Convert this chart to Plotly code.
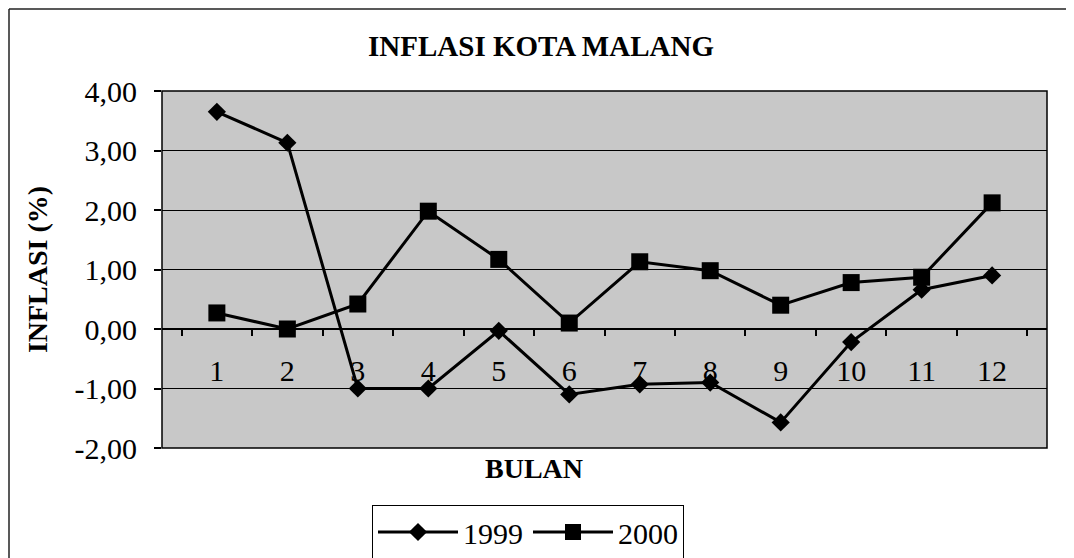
import plotly.graph_objects as go

months = ["1", "2", "3", "4", "5", "6", "7", "8", "9", "10", "11", "12"]
infl_1999 = [3.65, 3.13, -1.00, -1.00, -0.03, -1.10, -0.93, -0.90, -1.57, -0.22, 0.66, 0.90]
infl_2000 = [0.27, 0.00, 0.42, 1.98, 1.17, 0.10, 1.13, 0.98, 0.40, 0.78, 0.87, 2.12]
y_ticks = [-2, -1, 0, 1, 2, 3, 4]
y_ticktext = [f"{v:.2f}".replace(".", ",") for v in y_ticks]
y_min, y_max = -2, 4

# page body has an 8px margin: work in reference pixels, shift by OFF
OFF = 8
W, H = 1074 - OFF, 558 - OFF
L, T = 162 - OFF, 91 - OFF
R = W - (1047 - OFF)
B = H - (448 - OFF)
pw, ph = W - L - R, H - T - B

def px_x(x):
    return (x - OFF - L) / pw

def px_y(y):
    return (H - B - (y - OFF)) / ph

font_fam = "Liberation Serif, Times New Roman, serif"

fig = go.Figure()
fig.add_trace(go.Scatter(
    x=months, y=infl_1999, name="1999", mode="lines+markers",
    line=dict(color="black", width=3),
    marker=dict(symbol="diamond", size=14, color="black"),
))
fig.add_trace(go.Scatter(
    x=months, y=infl_2000, name="2000", mode="lines+markers",
    line=dict(color="black", width=3),
    marker=dict(symbol="square", size=17, color="black"),
))

fig.update_layout(
    width=W, height=H,
    margin=dict(l=L, r=R, t=T, b=B, autoexpand=False),
    paper_bgcolor="white",
    plot_bgcolor="#c8c8c8",
    font=dict(family=font_fam, color="black", size=30),
    title=dict(
        text="<b>INFLASI KOTA MALANG</b>",
        x=(541 - OFF) / W, xref="container", xanchor="center",
        y=1 - (46 - OFF) / H, yref="container", yanchor="middle",
        font=dict(family=font_fam, size=29, color="black"),
    ),
    showlegend=True,
    legend=dict(
        orientation="h",
        x=px_x(528), xanchor="center",
        y=px_y(505), yanchor="top",
        bordercolor="black", borderwidth=1, bgcolor="white",
        font=dict(family=font_fam, size=30, color="black"),
        itemwidth=80,
    ),
    xaxis=dict(
        type="category",
        categoryorder="array", categoryarray=months,
        anchor="free", position=(0 - y_min) / (y_max - y_min),
        showline=True, linecolor="black", linewidth=1.5,
        showgrid=False, zeroline=False,
        tickson="boundaries", ticks="outside", ticklen=6, tickcolor="black", tickwidth=1.5,
        ticklabelstandoff=15,
        tickfont=dict(family=font_fam, size=30, color="black"),
        fixedrange=True,
    ),
    yaxis=dict(
        range=[y_min, y_max],
        tickmode="array", tickvals=y_ticks, ticktext=y_ticktext,
        showline=False,
        showgrid=True, gridcolor="black", gridwidth=1.2,
        zeroline=True, zerolinecolor="black", zerolinewidth=1.5,
        ticks="outside", ticklen=7, tickcolor="black", tickwidth=1.5,
        ticklabelstandoff=11,
        tickfont=dict(family=font_fam, size=30, color="black"),
        title=dict(text="<b>INFLASI (%)</b>", standoff=18,
                   font=dict(family=font_fam, size=28, color="black")),
        fixedrange=True,
    ),
    annotations=[
        dict(text="<b>BULAN</b>", xref="paper", yref="paper",
             x=px_x(534), y=px_y(468), xanchor="center", yanchor="middle",
             showarrow=False, font=dict(family=font_fam, size=28, color="black")),
    ],
    shapes=[
        dict(type="rect", xref="paper", yref="paper", x0=0, x1=1, y0=0, y1=1,
             line=dict(color="black", width=1.5), layer="above"),
        dict(type="line", xref="paper", yref="paper",
             x0=px_x(9), x1=px_x(1074), y0=px_y(9), y1=px_y(9),
             line=dict(color="#222222", width=1.5)),
        dict(type="line", xref="paper", yref="paper",
             x0=px_x(9), x1=px_x(9), y0=px_y(9), y1=px_y(558),
             line=dict(color="#222222", width=1.5)),
    ],
)

fig.write_html("out.html")
